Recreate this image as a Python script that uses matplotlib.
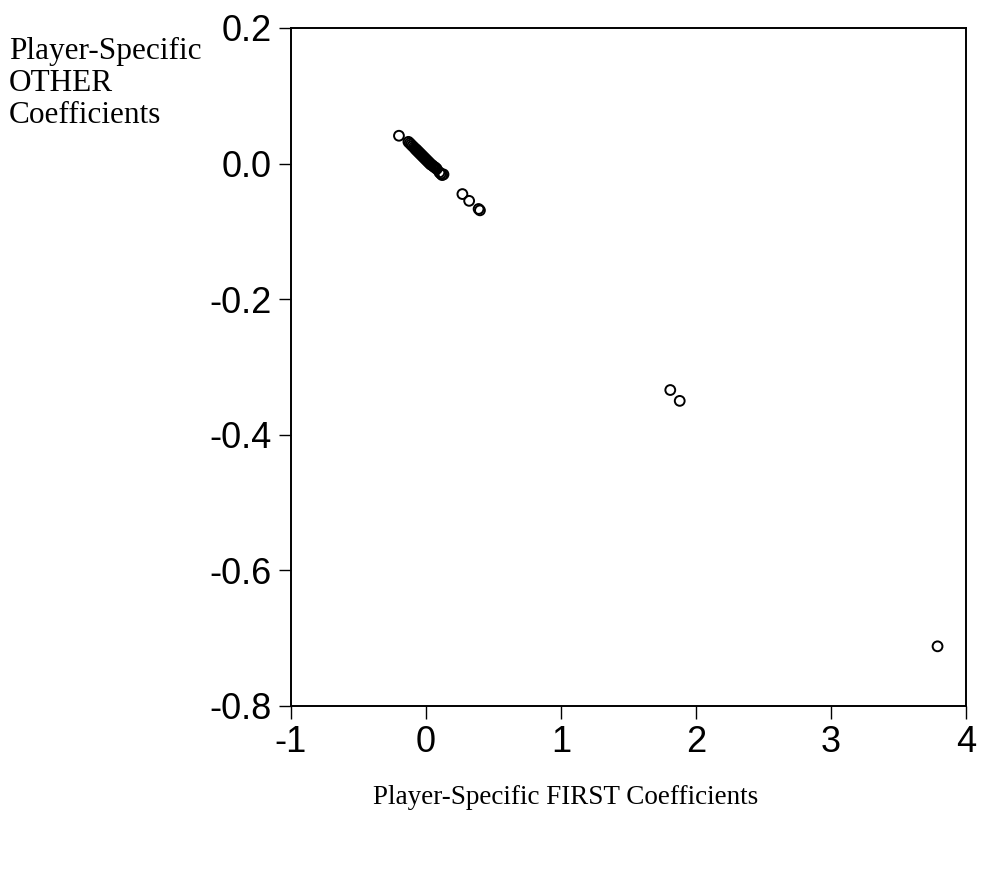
import matplotlib.pyplot as plt

# player-specific coefficients
first_coef = [-0.20, -0.13, -0.12, -0.11, -0.10, -0.09, -0.08, -0.075, -0.07, -0.065,
              -0.06, -0.055, -0.05, -0.045, -0.04, -0.035, -0.03, -0.025, -0.02, -0.015,
              -0.01, -0.005, 0.0, 0.005, 0.01, 0.015, 0.02, 0.025, 0.03, 0.035,
              0.04, 0.05, 0.06, 0.07, 0.08, 0.10, 0.11, 0.12, 0.13,
              0.27, 0.32, 0.39, 0.40,
              1.81, 1.88, 3.79]
other_coef = [0.041, 0.032, 0.030, 0.028, 0.026, 0.024, 0.022, 0.021, 0.020, 0.019,
              0.018, 0.017, 0.016, 0.015, 0.014, 0.013, 0.012, 0.011, 0.010, 0.009,
              0.008, 0.007, 0.006, 0.005, 0.004, 0.003, 0.002, 0.001, 0.000, -0.001,
              -0.002, -0.003, -0.005, -0.006, -0.008, -0.013, -0.015, -0.017, -0.016,
              -0.045, -0.055, -0.067, -0.069,
              -0.334, -0.350, -0.712]

xticks = [-1, 0, 1, 2, 3, 4]
yticks = [0.2, 0.0, -0.2, -0.4, -0.6, -0.8]
ytick_labels = ["0.2", "0.0", "-0.2", "-0.4", "-0.6", "-0.8"]

fig = plt.figure(figsize=(9.81, 8.73), dpi=100)
ax = fig.add_axes([0.2966, 0.1913, 0.688, 0.7767])

ax.scatter(first_coef, other_coef, s=50, facecolors='none', edgecolors='black', linewidths=1.4)

ax.set_xlim(-1, 4)
ax.set_ylim(-0.8, 0.2)
ax.set_xticks(xticks)
ax.set_xticklabels([str(t) for t in xticks])
ax.set_yticks(yticks)
ax.set_yticklabels(ytick_labels)
ax.tick_params(direction='out', length=9, width=1, labelsize=26, pad=5)
for lbl in ax.get_xticklabels() + ax.get_yticklabels():
    lbl.set_family('Liberation Sans')
for sp in ax.spines.values():
    sp.set_linewidth(1.4)

fig.text(0.577, 0.087, "Player-Specific FIRST Coefficients", ha='center', va='center',
         fontsize=19.5, family='Liberation Serif')
fig.text(0.009, 0.958, "Player-Specific\nOTHER\nCoefficients", ha='left', va='top',
         fontsize=22.5, family='Liberation Serif', linespacing=1.15)

fig.savefig("out.png", dpi=100)
